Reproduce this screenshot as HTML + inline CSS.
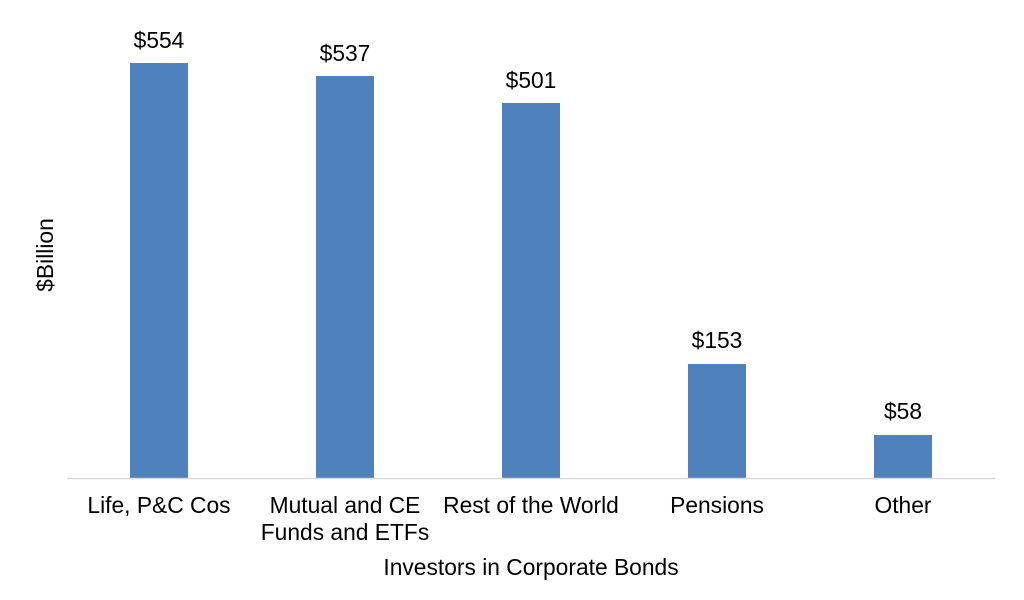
<!DOCTYPE html>
<html><head><style>body{margin:0;background:#fff}svg{display:block}</style></head><body>
<svg width="1024" height="600" xmlns="http://www.w3.org/2000/svg" font-family="Liberation Sans, Arial, sans-serif" font-size="22.8" fill="#000">
<rect width="1024" height="600" fill="#fff"/>
<g fill="#4f81bd">
<rect x="130" y="63" width="58" height="415"/>
<rect x="316" y="76" width="58" height="402"/>
<rect x="502" y="103" width="58" height="375"/>
<rect x="688" y="364" width="58" height="114"/>
<rect x="874" y="435" width="58" height="43"/>
</g>
<line x1="67" y1="478.5" x2="995" y2="478.5" stroke="#d9d9d9" stroke-width="1.5"/>
<g text-anchor="middle">
<text x="159" y="48">$554</text>
<text x="345" y="61">$537</text>
<text x="531" y="88">$501</text>
<text x="717" y="348">$153</text>
<text x="903" y="419">$58</text>
<text x="159" y="513">Life, P&amp;C Cos</text>
<text x="345" y="513">Mutual and CE</text>
<text x="345" y="540">Funds and ETFs</text>
<text x="531" y="513">Rest of the World</text>
<text x="717" y="513">Pensions</text>
<text x="903" y="513">Other</text>
<text x="531" y="575">Investors in Corporate Bonds</text>
<text transform="translate(53,255) rotate(-90)">$Billion</text>
</g>
</svg>
</body></html>
